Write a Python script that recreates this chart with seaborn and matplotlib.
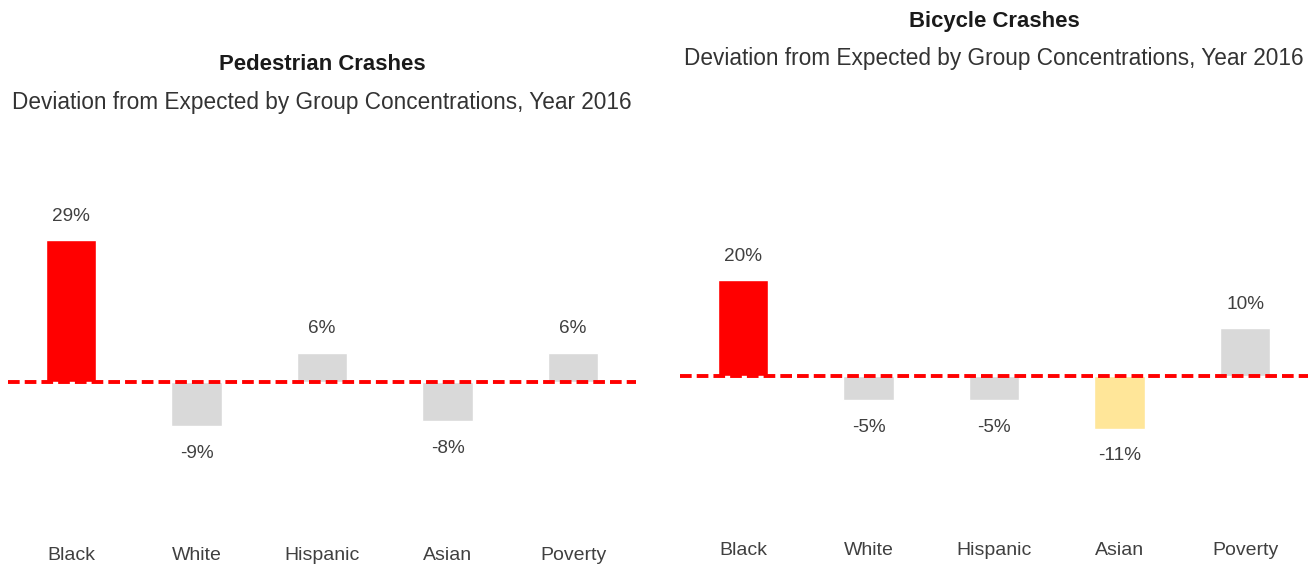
import matplotlib
matplotlib.use("Agg")
import matplotlib.pyplot as plt
import seaborn as sns
import pandas as pd

# Data
groups = ["Black", "White", "Hispanic", "Asian", "Poverty"]
pedestrian_dev = [29, -9, 6, -8, 6]
bicycle_dev = [20, -5, -5, -11, 10]
pedestrian_colors = ["#FF0000", "#D9D9D9", "#D9D9D9", "#D9D9D9", "#D9D9D9"]
bicycle_colors = ["#FF0000", "#D9D9D9", "#D9D9D9", "#FFE699", "#D9D9D9"]

sns.set_theme(style="white")
plt.rcParams["font.family"] = ["Liberation Sans", "DejaVu Sans"]

W, H = 1311, 568
fig = plt.figure(figsize=(W / 100, H / 100), dpi=100)


def px_axes(left, top, right, bottom):
    return fig.add_axes([left / W, 1 - bottom / H, (right - left) / W, (bottom - top) / H])


def panel(ax, values, colors, ylim):
    df = pd.DataFrame({"group": groups, "value": values})
    sns.barplot(data=df, x="group", y="value", hue="group", palette=colors,
                legend=False, width=0.4, saturation=1, ax=ax, zorder=2)
    ax.axhline(0, color="#FF0000", lw=2.8, ls=(0, (3, 1.3)), zorder=3)
    ax.set_xlim(-0.5, 4.5)
    ax.set_ylim(*ylim)
    for i, v in enumerate(values):
        off = 17 if v > 0 else -19.5
        ax.annotate(f"{v}%", (i, v), xytext=(0, off), textcoords="offset points",
                    ha="center", va="center", fontsize=13.7, color="#404040")
    ax.set_xlabel("")
    ax.set_ylabel("")
    ax.set_yticks([])
    ax.tick_params(axis="x", length=0, pad=3, labelsize=14, labelcolor="#404040")
    for s in ax.spines.values():
        s.set_visible(False)
    ax.patch.set_alpha(0)


ax1 = px_axes(8.25, 190, 635.75, 543)
panel(ax1, pedestrian_dev, pedestrian_colors, (-(543 - 382) / 4.9, (382 - 190) / 4.9))

ax2 = px_axes(680.25, 190, 1307.75, 538)
panel(ax2, bicycle_dev, bicycle_colors, (-(538 - 376) / 4.8, (376 - 190) / 4.8))

# Panel headings
fig.text(322 / W, 1 - 65 / H, "Pedestrian Crashes", ha="center", va="center",
         fontsize=15.9, fontweight="bold", color="#1a1a1a")
fig.text(322 / W, 1 - 102 / H, "Deviation from Expected by Group Concentrations, Year 2016",
         ha="center", va="center", fontsize=16.3, color="#333333")
fig.text(994 / W, 1 - 22 / H, "Bicycle Crashes", ha="center", va="center",
         fontsize=15.9, fontweight="bold", color="#1a1a1a")
fig.text(994 / W, 1 - 58 / H, "Deviation from Expected by Group Concentrations, Year 2016",
         ha="center", va="center", fontsize=16.3, color="#333333")

fig.savefig("out.png", dpi=100)
